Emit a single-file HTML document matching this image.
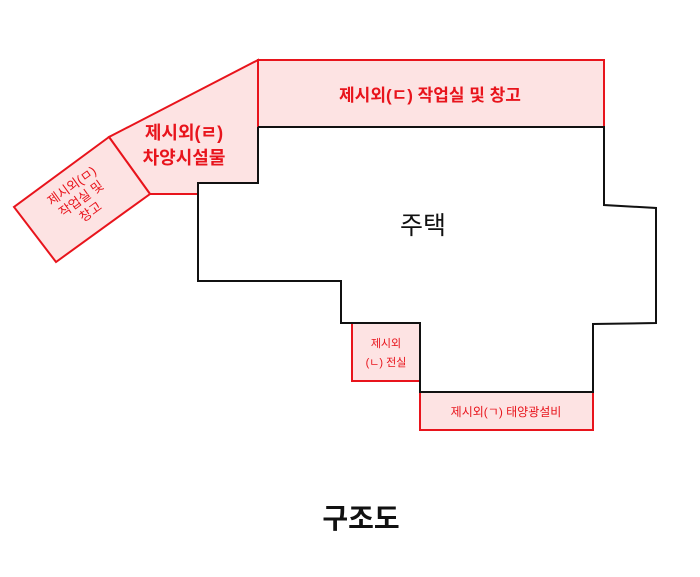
<!DOCTYPE html>
<html><head><meta charset="utf-8"><style>html,body{margin:0;padding:0;background:#fff;}</style></head>
<body>
<svg width="700" height="577" viewBox="0 0 700 577" xmlns="http://www.w3.org/2000/svg" style="display:block;font-family:'Liberation Sans','Noto Sans CJK KR',sans-serif">
<rect width="700" height="577" fill="#fff"/>
<polygon points="258,60 604,60 604,127 258,127" fill="#fde3e3" stroke="#e8141c" stroke-width="2"/>
<polygon points="258,60 258,183 198,183 198,194 150,194 109,137" fill="#fde3e3" stroke="#e8141c" stroke-width="2"/>
<polygon points="109,137 150,194 56,262 14,207" fill="#fde3e3" stroke="#e8141c" stroke-width="2"/>
<rect x="352" y="323" width="68" height="58" fill="#fde3e3" stroke="#e8141c" stroke-width="2"/>
<rect x="420" y="392" width="173" height="38" fill="#fde3e3" stroke="#e8141c" stroke-width="2"/>
<polyline points="258,127 604,127 604,205 656,208 656,323 593,324 593,392 420,392 420,323 341,323 341,281 198,281 198,183 258,183 258,127" fill="none" stroke="#111" stroke-width="2"/>
<text x="430" y="101" font-size="17" fill="#e8141c" text-anchor="middle" font-weight="bold">제시외(ㄷ) 작업실 및 창고</text>
<text x="184" y="139" font-size="18" fill="#e8141c" text-anchor="middle" font-weight="bold">제시외(ㄹ)</text>
<text x="184" y="164" font-size="18" fill="#e8141c" text-anchor="middle" font-weight="bold">차양시설물</text>
<g transform="translate(82,200) rotate(-36)" fill="#e8141c" font-size="13" text-anchor="middle">
<text x="0" y="-13">제시외(ㅁ)</text><text x="0" y="3">작업실 및</text><text x="0" y="19">창고</text></g>
<text x="386" y="347" font-size="11" fill="#e8141c" text-anchor="middle">제시외</text>
<text x="386" y="366" font-size="11" fill="#e8141c" text-anchor="middle">(ㄴ) 전실</text>
<text x="506" y="416" font-size="12" fill="#e8141c" text-anchor="middle">제시외(ㄱ) 태양광설비</text>
<text x="423" y="234" font-size="25" fill="#111" text-anchor="middle">주택</text>
<text x="361" y="528" font-size="28" fill="#111" text-anchor="middle" font-weight="bold">구조도</text>
</svg>
</body></html>
